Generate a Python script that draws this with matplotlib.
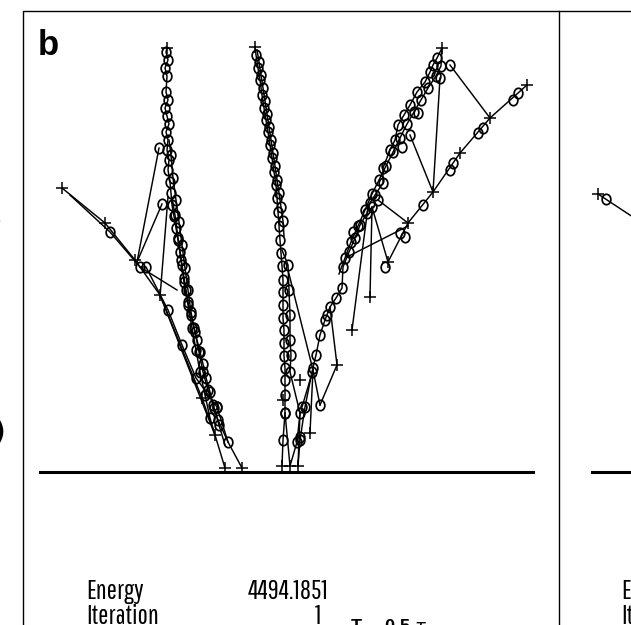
import numpy as np
import matplotlib.pyplot as plt
from matplotlib.path import Path
from matplotlib.transforms import Affine2D

# panel coordinates are in pixels, y grows downwards (detector layers at the bottom)

# hits (+)
hits_x = [167, 62, 105, 135, 160, 202, 215, 225, 242,
          255, 282, 290, 298, 283, 300,
          442, 527, 490, 460, 433, 408, 388, 370, 352, 337, 310]
hits_y = [48, 188, 223, 260, 295, 398, 435, 468, 468,
          47, 466, 466, 466, 400, 380,
          48, 85, 118, 153, 192, 223, 262, 297, 330, 365, 433]

# tracks through the hits
track_left_x = [62, 105, 135, 160, 202, 215, 225]
track_left_y = [188, 223, 260, 295, 398, 435, 468]
track_right_x = [527, 490, 460, 433, 408, 388]
track_right_y = [85, 118, 153, 192, 223, 262]

# elastic net chains (circles joined by segments)
chain_a_x = [167, 166, 168, 165, 167, 166, 168, 165, 167, 169, 166, 168, 167, 169, 168, 170,
             171, 172, 174, 176, 178, 180, 182, 184, 186, 188, 191, 194, 197, 200, 203, 206,
             210, 214, 219, 225]
chain_a_y = [48, 52, 60, 68, 76, 92, 100, 108, 116, 124, 132, 140, 150, 160, 170, 182,
             193, 205, 216, 228, 240, 252, 265, 278, 290, 302, 315, 328, 340, 352, 364, 378,
             392, 408, 425, 445]
chain_b_x = [169, 171, 173, 176, 179, 182, 185, 188, 191, 195, 199, 203, 208, 213, 218, 228, 242]
chain_b_y = [140, 155, 178, 200, 222, 245, 268, 290, 312, 332, 352, 372, 390, 405, 420, 442, 468]
chain_c_x = [70, 110, 140, 146, 168, 182, 196, 217, 228]
chain_c_y = [195, 232, 267, 267, 310, 345, 378, 407, 442]
chain_d_x = [172, 175, 178, 181, 184, 188, 192, 196, 200, 205, 210, 215]
chain_d_y = [198, 215, 238, 260, 282, 305, 328, 350, 372, 395, 418, 435]

chain_m_x = [255, 256, 258, 260, 262, 264, 266, 268, 270, 272, 274, 276, 277, 278, 279, 280,
             281, 282, 283, 283, 283, 283, 284, 284, 284, 285, 285, 285, 285, 283, 282]
chain_m_y = [47, 55, 68, 80, 95, 108, 120, 132, 145, 158, 172, 185, 198, 212, 226, 240,
             253, 266, 280, 292, 305, 318, 330, 343, 356, 368, 380, 395, 413, 440, 466]
chain_m2_x = [257, 259, 261, 263, 265, 267, 269, 271, 273, 275, 277, 279, 281, 283, 284]
chain_m2_y = [50, 62, 75, 88, 101, 114, 127, 140, 153, 166, 180, 193, 207, 221, 236]
chain_n_x = [282, 288, 289, 290, 290, 291, 290, 300, 297, 290]
chain_n_y = [250, 265, 290, 315, 340, 355, 372, 413, 442, 466]

chain_r_x = [442, 437, 433, 430, 425, 417, 410, 404, 398, 395, 390, 383, 383, 375, 370, 367,
             360, 355, 349, 343, 342, 336, 330, 325, 320, 316, 312, 305, 300, 298]
chain_r_y = [48, 58, 65, 72, 82, 92, 105, 115, 125, 140, 150, 168, 183, 195, 203, 213,
             225, 238, 252, 267, 288, 298, 307, 320, 335, 355, 372, 407, 440, 466]
chain_r2_x = [442, 441, 436, 428, 421, 414, 407, 400, 393, 386, 379, 372, 365, 358, 351, 345, 339]
chain_r2_y = [48, 66, 76, 88, 100, 112, 124, 138, 152, 166, 180, 194, 210, 226, 242, 258, 274]

# loose nodes off the chains
loose_x = [159, 162, 450, 440, 418, 402, 410, 372, 378, 353, 327, 320, 313, 302,
           518, 513, 483, 478, 453, 450, 423, 405, 400, 385, 217, 300, 285, 606]
loose_y = [148, 204, 65, 78, 113, 147, 135, 207, 200, 232, 315, 405, 368, 407,
           93, 100, 128, 133, 163, 170, 205, 237, 233, 267, 407, 437, 413, 199]

# single segments between nodes and hits
links = [(137, 262, 159, 148), (137, 262, 162, 204), (160, 297, 168, 197),
         (140, 267, 177, 290), (160, 295, 215, 435),
         (450, 65, 490, 118), (440, 78, 433, 192), (410, 135, 433, 192),
         (378, 200, 408, 223), (372, 207, 388, 262), (372, 207, 370, 297),
         (368, 207, 352, 330), (347, 257, 408, 226), (330, 307, 337, 365),
         (288, 270, 313, 370), (313, 370, 310, 433), (313, 370, 320, 405),
         (313, 370, 302, 407), (320, 405, 337, 365), (285, 413, 290, 466),
         (300, 413, 298, 466), (598, 194, 645, 225)]

# start of the next panel
right_hit_x = [598]
right_hit_y = [194]

energy = "4494.1851"
iteration = "1"

fig = plt.figure(figsize=(6.31, 6.25), dpi=100)
ax = fig.add_axes([0, 0, 1, 1])
ax.set_xlim(0, 631)
ax.set_ylim(625, 0)
ax.axis('off')

ring = Path.unit_circle().transformed(Affine2D().scale(1.0, 1.2))
line_kw = dict(color='black', lw=1.05, solid_joinstyle='round')
ring_kw = dict(marker=ring, ms=7.5, mfc='none', mec='black', mew=1.25, ls='none')
plus_kw = dict(marker='+', ms=9, mec='black', mew=1.1, ls='none')

for x0, y0, x1, y1 in links:
    ax.plot([x0, x1], [y0, y1], **line_kw)

for cx, cy in [(track_left_x, track_left_y), (track_right_x, track_right_y)]:
    ax.plot(cx, cy, **line_kw)

chains = [(chain_a_x, chain_a_y), (chain_b_x, chain_b_y), (chain_c_x, chain_c_y),
          (chain_d_x, chain_d_y), (chain_m_x, chain_m_y), (chain_m2_x, chain_m2_y),
          (chain_n_x, chain_n_y), (chain_r_x, chain_r_y), (chain_r2_x, chain_r2_y)]
for cx, cy in chains:
    ax.plot(cx, cy, **line_kw)
    ax.plot(cx[1:-1], cy[1:-1], **ring_kw)

ax.plot(loose_x, loose_y, **ring_kw)
ax.plot(hits_x, hits_y, **plus_kw)
ax.plot(right_hit_x, right_hit_y, **plus_kw)

# panel frames and detector base
ax.plot([23, 23, 631], [625, 11, 11], color='black', lw=1.0)
ax.plot([559, 559], [11, 625], color='black', lw=1.0)
ax.plot([40, 533], [472, 472], color='black', lw=2.2)
ax.plot([592, 631], [472, 472], color='black', lw=2.2)

ax.text(38, 55, "b", fontsize=25, fontweight='bold', family=['Liberation Sans', 'DejaVu Sans'])

narrow = ['Pathway Gothic One', 'Roboto Condensed', 'DejaVu Sans']
ax.text(86, 599, "Energy", fontsize=19.5, family=narrow, va='baseline')
ax.text(86, 624, "Iteration", fontsize=19.5, family=narrow, va='baseline')
ax.text(328, 599, energy, fontsize=19.5, family=narrow, ha='right', va='baseline')
ax.text(321, 624, iteration, fontsize=19.5, family=narrow, ha='right', va='baseline')
ax.text(350, 630, r"T$_{\,=}$ 0.5 $\tau$", fontsize=13, fontweight='bold',
        family=['Liberation Sans', 'DejaVu Sans'], va='baseline')
ax.text(621, 599, "Energy", fontsize=19.5, family=narrow, va='baseline')
ax.text(621, 624, "Iteration", fontsize=19.5, family=narrow, va='baseline')

# clipped labels of the previous panel
ax.text(-6, 222, ")", fontsize=12, fontweight='bold', va='center')
ax.text(-7, 433, ")", fontsize=20, fontweight='bold', va='center')

fig.savefig("out.png", dpi=100)
